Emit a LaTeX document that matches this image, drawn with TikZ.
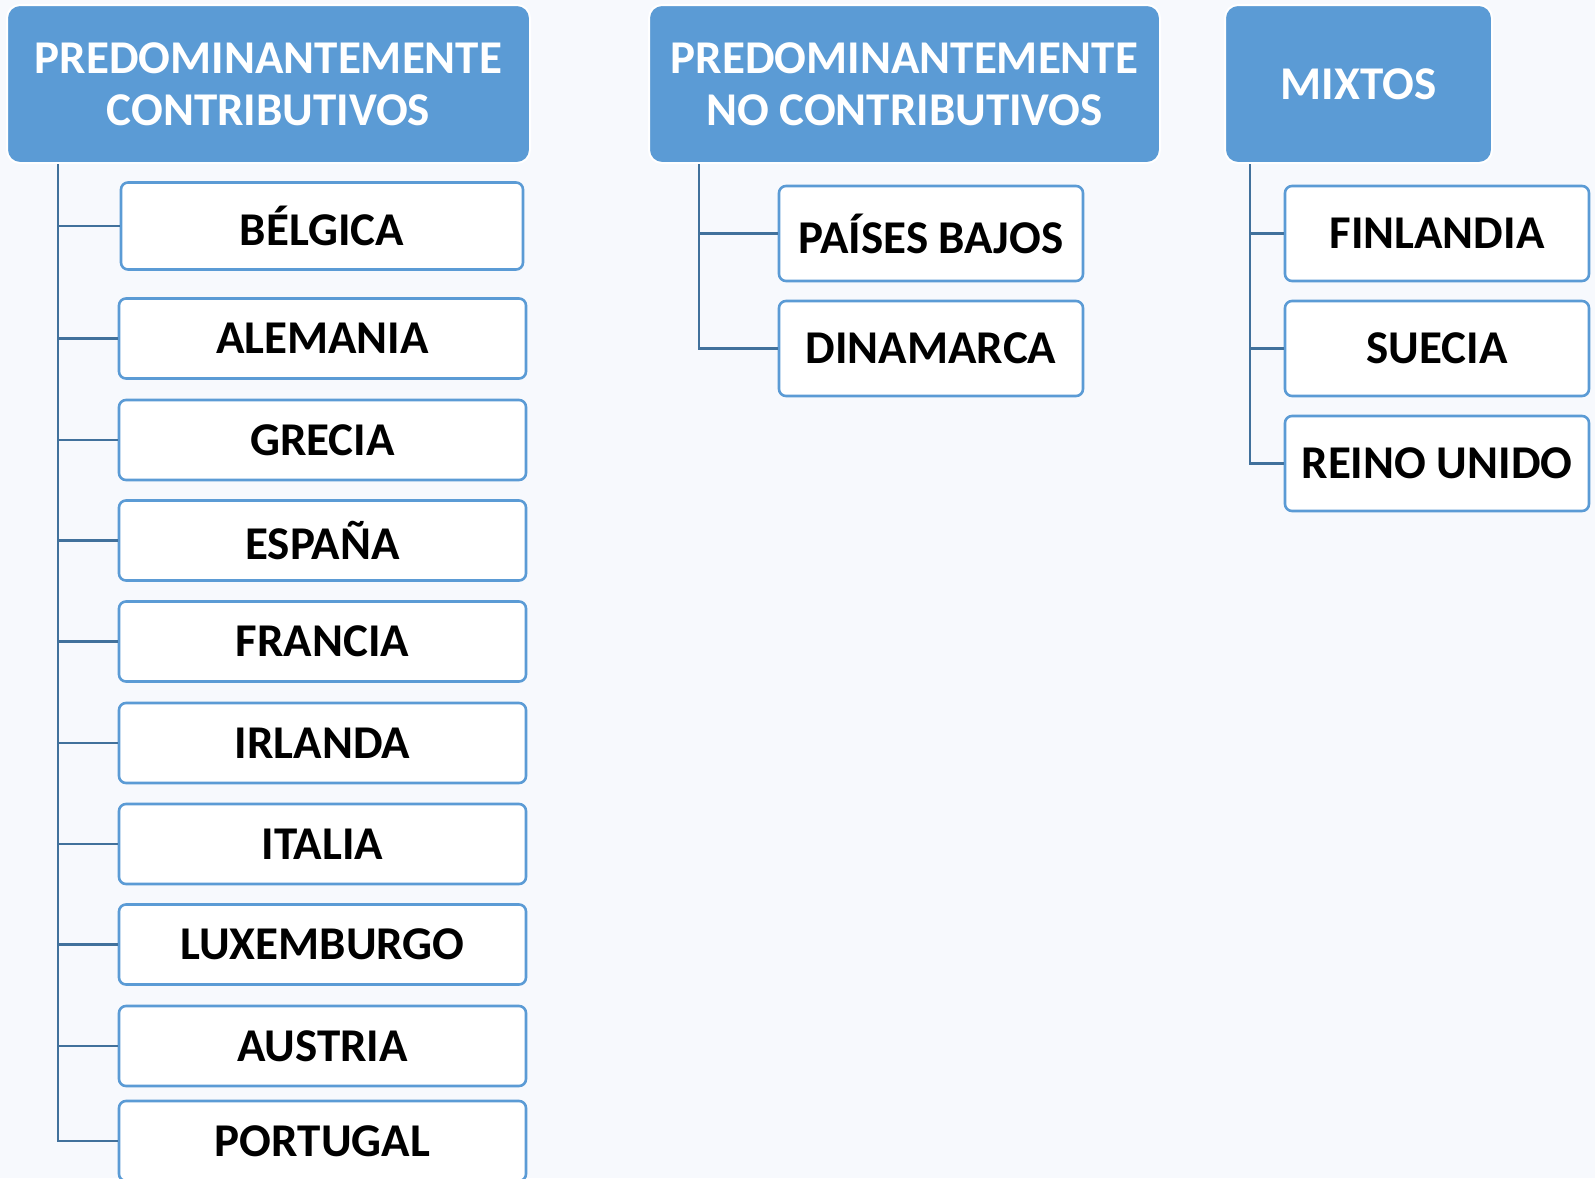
\documentclass[tikz,border=0pt]{standalone}
\usepackage{fontspec}
\setmainfont{Carlito}
\definecolor{bg}{HTML}{F7F9FD}
\definecolor{hfill}{HTML}{5B9BD5}
\definecolor{bline}{HTML}{5B9BD5}
\definecolor{cline}{HTML}{41719C}
\begin{document}
\begin{tikzpicture}[x=1pt,y=-1pt,
  header/.style={draw=white,line width=2pt,fill=hfill,rounded corners=13pt,text=white,
    font=\fontsize{47}{52}\selectfont\bfseries,align=center,inner sep=0pt},
  country/.style={draw=bline,line width=2.6pt,fill=white,rounded corners=7pt,text=black,
    font=\fontsize{47}{52}\selectfont\bfseries,align=center,inner sep=0pt},
  conn/.style={draw=cline,line width=2.6pt}]
\fill[bg] (0,0) rectangle (1595,1178);
\useasboundingbox (0,0) rectangle (1595,1178);
% headers
\node[header,minimum width=523pt,minimum height=158pt] (h1) at (268.5,84) {PREDOMINANTEMENTE\\CONTRIBUTIVOS};
\node[header,minimum width=511pt,minimum height=158pt] (h2) at (904.5,84) {PREDOMINANTEMENTE\\NO CONTRIBUTIVOS};
\node[header,minimum width=267pt,minimum height=158pt] (h3) at (1358.5,84) {MIXTOS};
% left column
\node[country,minimum width=402pt,minimum height=87pt] (be) at (322,226) {BÉLGICA};
\foreach \n/\t/\y in {al/ALEMANIA/338.5,gr/GRECIA/440,es/ESPAÑA/540.5,fr/FRANCIA/641.5,ir/IRLANDA/743,it/ITALIA/844,lu/LUXEMBURGO/944.5,au/AUSTRIA/1046,po/PORTUGAL/1141}
  \node[country,minimum width=407pt,minimum height=80pt] (\n) at (322.5,\y) {\t};
% middle column
\node[country,minimum width=304pt,minimum height=95pt] (pb) at (931,233.5) {PAÍSES BAJOS};
\node[country,minimum width=304pt,minimum height=95pt] (di) at (931,348.5) {DINAMARCA};
% right column
\node[country,minimum width=304pt,minimum height=95pt] (fi) at (1437,233.5) {FINLANDIA};
\node[country,minimum width=304pt,minimum height=95pt] (su) at (1437,348.5) {SUECIA};
\node[country,minimum width=304pt,minimum height=95pt] (ru) at (1437,463.5) {REINO UNIDO};
% trunks
\coordinate (t1) at (58,164);
\coordinate (t2) at (699,164);
\coordinate (t3) at (1250,164);
\begin{scope}[on background layer/.style={}]
\foreach \n in {be,al,gr,es,fr,ir,it,lu,au,po}
  \draw[conn] (t1) |- (\n.west);
\foreach \n in {pb,di}
  \draw[conn] (t2) |- (\n.west);
\foreach \n in {fi,su,ru}
  \draw[conn] (t3) |- (\n.west);
\end{scope}
\end{tikzpicture}
\end{document}
